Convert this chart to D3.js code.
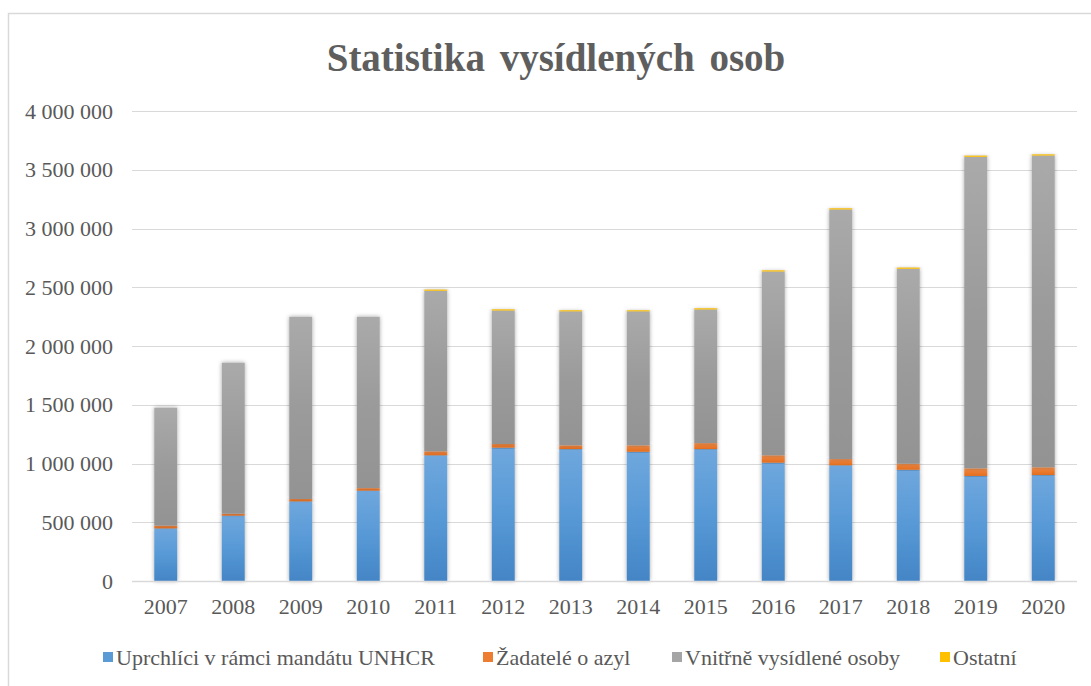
<!DOCTYPE html>
<html>
<head>
<meta charset="utf-8">
<script src="https://cdn.jsdelivr.net/npm/d3@7"></script>
<style>
  body { margin: 0; background: #fff; }
  text { font-family: "Liberation Serif", "Times New Roman", serif; fill: #595959; }
</style>
</head>
<body>
<div id="chart"></div>
<script>
// Data
const years = ["2007", "2008", "2009", "2010", "2011", "2012", "2013", "2014", "2015", "2016", "2017", "2018", "2019", "2020"];
const uprchlici = [448000, 556000, 678000, 769000, 1070000, 1135000, 1123000, 1100000, 1123000, 1007000, 985000, 947000, 894000, 902000];
const zadatele = [23000, 17000, 20000, 22000, 34000, 31000, 32000, 55000, 51000, 63000, 53000, 51000, 65000, 66000];
const vnitrne = [1004000, 1285000, 1551000, 1458000, 1366000, 1136000, 1140000, 1140000, 1137000, 1564000, 2124000, 1659000, 2651000, 2653000];
const ostatni = [0, 0, 0, 0, 10000, 10000, 9000, 9000, 10000, 10000, 10000, 10000, 10000, 10000];
const seriesNames = ["Uprchlíci v rámci mandátu UNHCR", "Žadatelé o azyl", "Vnitřně vysídlené osoby", "Ostatní"];
const yTicks = [0, 500000, 1000000, 1500000, 2000000, 2500000, 3000000, 3500000, 4000000];

const width = 1091;
const height = 686;
const margin = { top: 111, right: 14, bottom: 105, left: 132 };

const colors = ["#5b9bd5", "#ed7d31", "#a5a5a5", "#ffc000"];
const gradients = [
  ["#6fa7dd", "#5799d6", "#4485c6"],
  ["#f39455", "#ee7c30", "#e06d20"],
  ["#aaaaaa", "#9b9b9b", "#939393"],
  ["#ffc000", "#ffc000", "#ffc000"]
];

const rows = years.map((y, i) => ({
  year: y,
  s0: uprchlici[i],
  s1: zadatele[i],
  s2: vnitrne[i],
  s3: ostatni[i]
}));
const stack = d3.stack().keys(["s0", "s1", "s2", "s3"])(rows);

const svg = d3.select("#chart")
  .append("svg")
    .attr("width", width)
    .attr("height", height);

const defs = svg.append("defs");
gradients.forEach((g, i) => {
  const lg = defs.append("linearGradient")
    .attr("id", `grad${i}`)
    .attr("x1", 0).attr("y1", 0).attr("x2", 0).attr("y2", 1);
  lg.append("stop").attr("offset", "0%").attr("stop-color", g[0]);
  lg.append("stop").attr("offset", "50%").attr("stop-color", g[1]);
  lg.append("stop").attr("offset", "100%").attr("stop-color", g[2]);
});
defs.append("filter")
    .attr("id", "shadow")
    .attr("x", "-30%").attr("y", "-10%").attr("width", "160%").attr("height", "120%")
  .append("feDropShadow")
    .attr("dx", 0).attr("dy", 0)
    .attr("stdDeviation", 2)
    .attr("flood-color", "#000")
    .attr("flood-opacity", 0.35);

// Chart frame
svg.append("rect")
  .attr("x", 8.5).attr("y", 13.5)
  .attr("width", width + 10).attr("height", height + 10)
  .attr("fill", "none")
  .attr("stroke", "#d9d9d9")
  .attr("stroke-width", 1.5);

// Title
svg.append("text")
  .attr("x", 556)
  .attr("y", 71)
  .attr("text-anchor", "middle")
  .attr("font-size", 39)
  .attr("font-weight", "bold")
  .attr("word-spacing", 5)
  .style("fill", "#5e5e5e")
  .text("Statistika vysídlených osob");

// Scales
const x = d3.scaleBand()
  .domain(years)
  .range([margin.left, width - margin.right])
  .paddingInner(0.66)
  .paddingOuter(0.33);

const y = d3.scaleLinear()
  .domain([0, 4000000])
  .range([height - margin.bottom, margin.top]);

// Grid
svg.append("g")
  .selectAll("line")
  .data(yTicks.slice(1))
  .join("line")
    .attr("x1", margin.left)
    .attr("x2", width - margin.right)
    .attr("y1", d => Math.round(y(d)) + 0.5)
    .attr("y2", d => Math.round(y(d)) + 0.5)
    .attr("stroke", "#d9d9d9")
    .attr("stroke-width", 1);

// Y labels
const fmt = d => d3.format(",")(d).replace(/,/g, " ");
svg.append("g")
  .selectAll("text")
  .data(yTicks)
  .join("text")
    .attr("x", 113)
    .attr("y", d => y(d))
    .attr("dy", "0.35em")
    .attr("text-anchor", "end")
    .attr("font-size", 22)
    .text(fmt);

// Bars
svg.append("g")
  .selectAll("g")
  .data(stack)
  .join("g")
    .attr("fill", (d, i) => `url(#grad${i})`)
  .selectAll("rect")
  .data(d => d.filter(p => p[1] - p[0] > 0))
  .join("rect")
    .attr("x", d => x(d.data.year))
    .attr("y", d => y(d[1]))
    .attr("width", x.bandwidth())
    .attr("height", d => y(d[0]) - y(d[1]))
    .attr("filter", "url(#shadow)");

// Baseline
svg.append("line")
  .attr("x1", margin.left)
  .attr("x2", width - margin.right)
  .attr("y1", y(0) + 0.5)
  .attr("y2", y(0) + 0.5)
  .attr("stroke", "#d9d9d9")
  .attr("stroke-width", 1.5);

// X labels
svg.append("g")
  .selectAll("text")
  .data(years)
  .join("text")
    .attr("x", d => x(d) + x.bandwidth() / 2)
    .attr("y", 614)
    .attr("text-anchor", "middle")
    .attr("font-size", 22)
    .text(d => d);

// Legend
const legendX = [103, 483, 672, 940];
const legend = svg.append("g")
  .selectAll("g")
  .data(seriesNames)
  .join("g")
    .attr("transform", (d, i) => `translate(${legendX[i]}, 657)`);
legend.append("rect")
  .attr("x", 0).attr("y", -5)
  .attr("width", 10).attr("height", 10)
  .attr("fill", (d, i) => colors[i]);
legend.append("text")
  .attr("x", 13)
  .attr("y", 0)
  .attr("dy", "0.35em")
  .attr("font-size", 22)
  .text(d => d);
</script>
</body>
</html>
